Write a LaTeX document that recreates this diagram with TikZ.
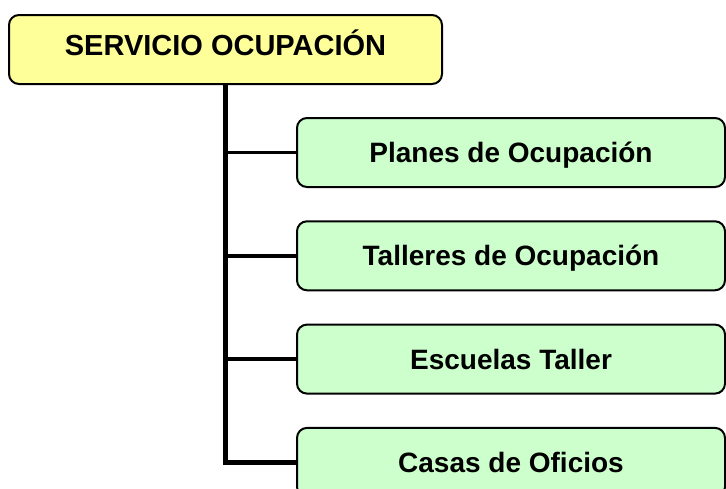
\documentclass[tikz,border=0pt]{standalone}
\usepackage{fontspec}
\setmainfont{Liberation Sans}
\usetikzlibrary{positioning}

\definecolor{headyellow}{HTML}{FFFF99}
\definecolor{itemgreen}{HTML}{CCFFCC}

\begin{document}
\begin{tikzpicture}[
	x=1pt, y=1pt,
	font=\bfseries,
	headnode/.style={draw, line width=2pt, rounded corners=10pt, fill=headyellow, minimum width=433pt, minimum height=69pt, text height=20pt, text depth=9pt, font=\fontsize{29}{34}\selectfont\bfseries},
	itemnode/.style={draw, line width=2pt, rounded corners=10pt, fill=itemgreen, minimum width=428pt, minimum height=69pt, text height=20pt, text depth=0pt, node distance=32.3pt, font=\fontsize{28}{33}\selectfont\bfseries},
	trunk/.style={line width=5pt},
	branch/.style={line width=3.5pt}
]
\useasboundingbox (0,0) rectangle (726,-488);
\clip (0,0) rectangle (726,-488);

\node[headnode] (servicio) at (225.5,-49.5) {SERVICIO OCUPACIÓN};
\node[itemnode] (planes) at (511,-152.5) {Planes de Ocupación};
\node[itemnode, below=of planes] (talleres) {Talleres de Ocupación};
\node[itemnode, below=of talleres] (escuelas) {Escuelas Taller};
\node[itemnode, below=of escuelas] (casas) {Casas de Oficios};

\draw[branch] (servicio.south |- planes.west) -- (planes.west);
\draw[branch] (servicio.south |- talleres.west) -- (talleres.west);
\draw[branch] (servicio.south |- escuelas.west) -- (escuelas.west);
\draw[trunk] (servicio.south) |- (casas.west);

\end{tikzpicture}
\end{document}
